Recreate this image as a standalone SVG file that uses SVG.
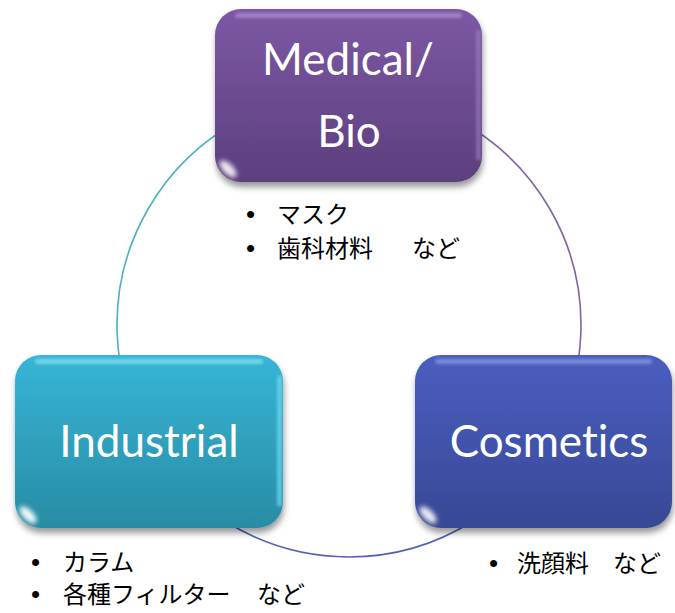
<svg xmlns="http://www.w3.org/2000/svg" width="675" height="613" viewBox="0 0 675 613">
<style>
.lbl{font-family:Lato,"Open Sans","Noto Sans",sans-serif;font-size:44px;fill:#ffffff;text-anchor:middle;font-variant-ligatures:none;font-feature-settings:"liga" 0,"dlig" 0}
.jp{font-family:"Noto Sans CJK JP","Noto Sans",sans-serif;font-size:24px;fill:#000000}
.bu{font-family:"Liberation Sans",sans-serif;font-size:26px;fill:#000000}
.arc{fill:none;stroke-width:1.6}
</style>
<defs>
<linearGradient id="gP" x1="0" y1="0" x2="0" y2="1">
<stop offset="0" stop-color="#7d58a4"/><stop offset="1" stop-color="#5c3f7e"/>
</linearGradient>
<linearGradient id="gT" x1="0" y1="0" x2="0" y2="1">
<stop offset="0" stop-color="#37b5d6"/><stop offset="1" stop-color="#288ca5"/>
</linearGradient>
<linearGradient id="gB" x1="0" y1="0" x2="0" y2="1">
<stop offset="0" stop-color="#4a5ec0"/><stop offset="1" stop-color="#384896"/>
</linearGradient>
<filter id="sh" x="-10%" y="-10%" width="120%" height="130%">
<feGaussianBlur in="SourceAlpha" stdDeviation="3"/>
<feOffset dx="1" dy="5" result="b"/>
<feFlood flood-color="#000" flood-opacity="0.4"/>
<feComposite in2="b" operator="in"/>
<feMerge><feMergeNode/><feMergeNode in="SourceGraphic"/></feMerge>
</filter>
<filter id="bl" x="-50%" y="-50%" width="200%" height="200%"><feGaussianBlur stdDeviation="2.5"/></filter>
<filter id="bl2" x="-50%" y="-50%" width="200%" height="200%"><feGaussianBlur stdDeviation="1.5"/></filter>
<clipPath id="cP"><rect x="215" y="9" width="267" height="173" rx="26"/></clipPath>
<clipPath id="cT"><rect x="15" y="355" width="268" height="173" rx="26"/></clipPath>
<clipPath id="cB"><rect x="415" y="355" width="257" height="173" rx="26"/></clipPath>
</defs>

<g id="connectors">
<path class="arc" stroke="#4eaec4" d="M349,93 A232,232 0 0 0 148.1,441"/>
<path class="arc" stroke="#8064a2" d="M349,93 A232,232 0 0 1 549.9,441"/>
<path class="arc" stroke="#4f62b6" d="M148.1,441 A232,232 0 0 0 549.9,441"/>
</g>

<g id="node-medical">
<rect x="215" y="9" width="267" height="173" rx="26" fill="url(#gP)" filter="url(#sh)"/>
<g clip-path="url(#cP)">
<rect x="235" y="13" width="227" height="5" rx="2.5" fill="#a98ccc" opacity="0.8" filter="url(#bl2)"/>
<rect x="476" y="30" width="5" height="130" fill="#9d82c2" opacity="0.6" filter="url(#bl2)"/>
<ellipse cx="228" cy="169" rx="11" ry="5" transform="rotate(45 228 169)" fill="#ffffff" opacity="0.9" filter="url(#bl)"/>
</g>
<text class="lbl" x="348" y="75">Medical/</text>
<text class="lbl" x="349" y="147">Bio</text>
</g>

<g id="node-industrial">
<rect x="15" y="355" width="268" height="173" rx="26" fill="url(#gT)" filter="url(#sh)"/>
<g clip-path="url(#cT)">
<rect x="35" y="359" width="228" height="5" rx="2.5" fill="#7fe0f4" opacity="0.8" filter="url(#bl2)"/>
<rect x="277" y="376" width="5" height="130" fill="#72dcf2" opacity="0.7" filter="url(#bl2)"/>
<ellipse cx="28" cy="515" rx="11" ry="5" transform="rotate(45 28 515)" fill="#ffffff" opacity="0.95" filter="url(#bl)"/>
</g>
<text class="lbl" x="149" y="457">Industrial</text>
</g>

<g id="node-cosmetics">
<rect x="415" y="355" width="257" height="173" rx="26" fill="url(#gB)" filter="url(#sh)"/>
<g clip-path="url(#cB)">
<rect x="435" y="359" width="217" height="5" rx="2.5" fill="#8497e2" opacity="0.8" filter="url(#bl2)"/>
<ellipse cx="428" cy="515" rx="11" ry="5" transform="rotate(45 428 515)" fill="#ffffff" opacity="0.9" filter="url(#bl)"/>
</g>
<text class="lbl" x="549" y="457">Cosmetics</text>
</g>

<g id="notes-medical">
<text class="bu" x="246" y="223">•</text><text class="jp" x="277" y="223">マスク</text>
<text class="bu" x="246" y="257">•</text><text class="jp" x="277" y="257">歯科材料</text><text class="jp" x="412" y="257">など</text>
</g>
<g id="notes-industrial">
<text class="bu" x="31" y="571">•</text><text class="jp" x="63" y="571">カラム</text>
<text class="bu" x="31" y="603">•</text><text class="jp" x="63" y="603">各種フィルター</text><text class="jp" x="257" y="603">など</text>
</g>
<g id="notes-cosmetics">
<text class="bu" x="489" y="572">•</text><text class="jp" x="517" y="572">洗顔料</text><text class="jp" x="613" y="572">など</text>
</g>
</svg>
